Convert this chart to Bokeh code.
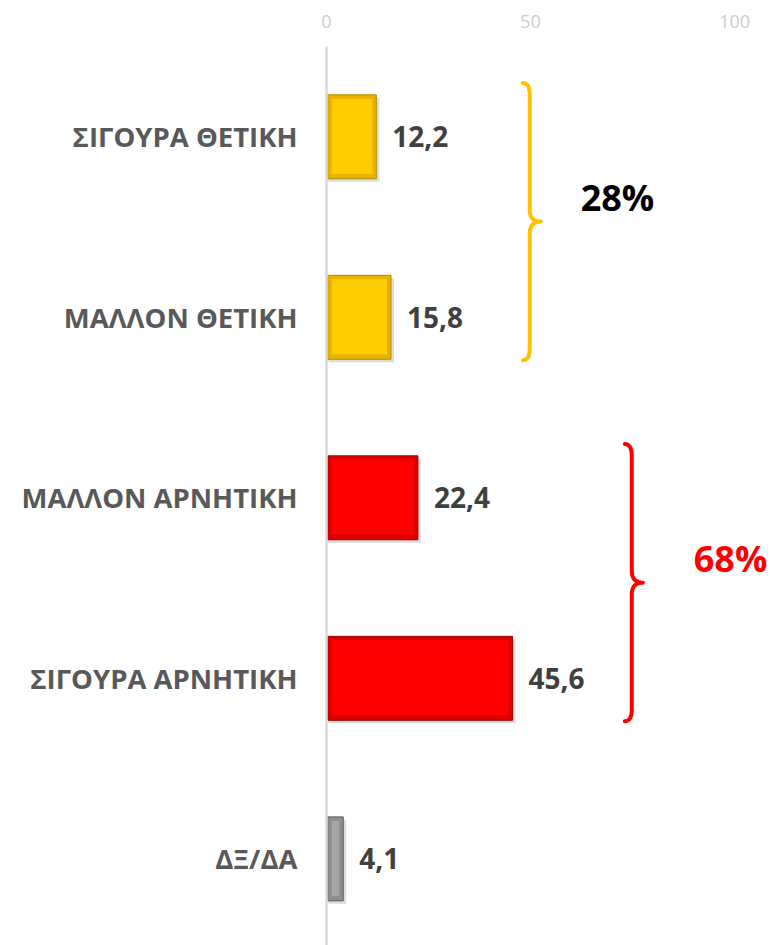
import numpy as np
from bokeh.plotting import figure
from bokeh.models import Range1d, FixedTicker
from bokeh.core.properties import value
from bokeh.embed import file_html
from bokeh.resources import INLINE

# ---------------- data ----------------
categories = ["ΣΙΓΟΥΡΑ ΘΕΤΙΚΗ", "ΜΑΛΛΟΝ ΘΕΤΙΚΗ", "ΜΑΛΛΟΝ ΑΡΝΗΤΙΚΗ", "ΣΙΓΟΥΡΑ ΑΡΝΗΤΙΚΗ", "ΔΞ/ΔΑ"]
values = [12.2, 15.8, 22.4, 45.6, 4.1]
groups = ["pos", "pos", "neg", "neg", "na"]
x_ticks = [0, 50, 100]

# ---------------- styles ----------------
MAIN = {"pos": "#FFCC00", "neg": "#FF0000", "na": "#A6A6A6"}
EDGE = {"pos": "#E6B400", "neg": "#D80000", "na": "#8F8F8F"}
OUTL = {"pos": "#B08C00", "neg": "#A00000", "na": "#5A5A5A"}
BRACE_COLOR = {"pos": "#FFC000", "neg": "#FF0000"}
BRACE_TEXT_COLOR = {"pos": "#000000", "neg": "#FF0000"}
BRACE_X = {"pos": 49.8, "neg": 74.8}
BRACE_TEXT_DX = {"pos": 21.5, "neg": 24.2}
FONT = "Open Sans"
BAR_H = 0.465
X_MAX = 108.3

n = len(categories)
ypos = np.array([n - i for i in range(n)], dtype=float)
vals = np.array(values)

W, H = 768, 945
LEFT, TOP = 326, 46
p = figure(width=W, height=H,
           x_range=Range1d(0, X_MAX), y_range=Range1d(0.52, 5.5),
           x_axis_location="above",
           output_backend="svg", toolbar_location=None,
           min_border_left=LEFT, min_border_top=TOP,
           min_border_right=0, min_border_bottom=0)
p.outline_line_color = None
p.grid.grid_line_color = None
p.background_fill_color = "white"
p.border_fill_color = "white"

# x axis (top)
xa = p.xaxis[0]
xa.ticker = FixedTicker(ticks=x_ticks)
xa.axis_line_color = None
xa.major_tick_line_color = None
xa.minor_tick_line_color = None
xa.major_label_text_color = "#CCCCCC"
xa.major_label_text_font = FONT
xa.major_label_text_font_size = "18px"
xa.major_label_standoff = 13

# y axis (categories)
ya = p.yaxis[0]
ya.ticker = FixedTicker(ticks=list(ypos))
ya.major_label_overrides = {float(y): c for y, c in zip(ypos, categories)}
ya.major_tick_line_color = None
ya.minor_tick_line_color = None
ya.axis_line_color = "#D9D9D9"
ya.axis_line_width = 2.5
ya.major_label_text_color = "#595959"
ya.major_label_text_font = FONT
ya.major_label_text_font_style = "bold"
ya.major_label_text_font_size = "27.5px"
ya.major_label_standoff = 23

# bars: shadow, bevel edge, face
main = [MAIN[g] for g in groups]
edge = [EDGE[g] for g in groups]
outl = [OUTL[g] for g in groups]
px_x = X_MAX / (W - LEFT)
px_y = (5.5 - 0.52) / (H - TOP)
p.hbar(y=ypos - 3 * px_y, left=2 * px_x, right=vals + 3 * px_x, height=BAR_H,
       fill_color="#000000", fill_alpha=0.14, line_color=None)
p.hbar(y=ypos, left=0.3, right=vals, height=BAR_H,
       fill_color=edge, line_color=outl, line_width=1)
p.hbar(y=ypos + 0.5 * px_y, left=0.3 + 4 * px_x, right=vals - 4 * px_x,
       height=BAR_H - 9 * px_y, fill_color=main, line_color=None)

# value labels
labels = [f"{v:.1f}".replace(".", ",") for v in values]
p.text(x=vals, y=ypos, text=labels, x_offset=16,
       text_align="left", text_baseline="middle",
       text_font=value(FONT), text_font_style="bold",
       text_font_size="28px", text_color="#404040")


def qbez(p0, p1, p2, m=12):
    t = np.linspace(0, 1, m)
    x = (1 - t) ** 2 * p0[0] + 2 * (1 - t) * t * p1[0] + t ** 2 * p2[0]
    y = (1 - t) ** 2 * p0[1] + 2 * (1 - t) * t * p1[1] + t ** 2 * p2[1]
    return list(x), list(y)


def brace(xl, ytop, ybot):
    xh, xt = xl - 1.7, xl + 2.7
    r = 12 * px_y
    ymid = (ytop + ybot) / 2
    xs, ys = [], []
    for seg in [qbez((xh, ytop), (xl, ytop), (xl, ytop - r)),
                qbez((xl, ymid + r), (xl, ymid), (xt, ymid)),
                qbez((xt, ymid), (xl, ymid), (xl, ymid - r)),
                qbez((xl, ybot + r), (xl, ybot), (xh, ybot))]:
        xs += seg[0]
        ys += seg[1]
    return xs, ys, ymid


for g in ["pos", "neg"]:
    idx = [i for i, gg in enumerate(groups) if gg == g]
    ytop = ypos[idx[0]] + BAR_H / 2 + 0.065
    ybot = ypos[idx[-1]] - BAR_H / 2 - 0.005
    xs, ys, ymid = brace(BRACE_X[g], ytop, ybot)
    p.line(xs, ys, line_color=BRACE_COLOR[g], line_width=4, line_join="round", line_cap="round")
    total = sum(values[i] for i in idx)
    p.text(x=[BRACE_X[g] + BRACE_TEXT_DX[g]], y=[ymid + 0.135], text=[f"{total:.0f}%"],
           text_align="center", text_baseline="middle",
           text_font=value(FONT), text_font_style="bold",
           text_font_size="36px", text_color=BRACE_TEXT_COLOR[g])

open("out.html", "w").write(file_html(p, INLINE))
